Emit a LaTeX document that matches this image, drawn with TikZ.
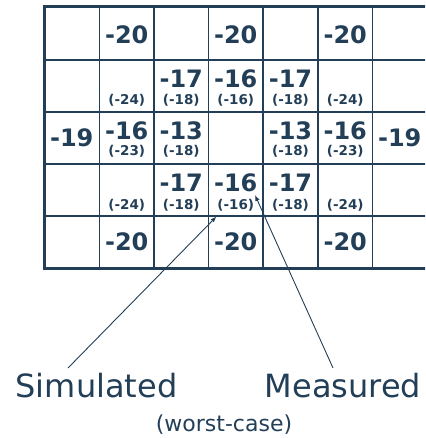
\documentclass[tikz,border=0pt]{standalone}
\usepackage{fontspec}
\setmainfont{DejaVu Sans}
\usetikzlibrary{arrows.meta}
\definecolor{gridblue}{HTML}{233F58}

\begin{document}
\begin{tikzpicture}[x=1pt,y=-1pt,
  big/.style={text=gridblue,inner sep=0pt,anchor=base,font=\bfseries\fontsize{24}{28}\selectfont},
  small/.style={text=gridblue,inner sep=0pt,anchor=base,font=\bfseries\fontsize{13.5}{16}\selectfont},
  caption/.style={text=gridblue,inner sep=0pt,anchor=base},
  pointer/.style={draw=gridblue,line width=0.9pt,-{Latex[length=6pt,width=4.5pt]}}]
  \useasboundingbox (0,0) rectangle (425,438);
  \clip (0,0) rectangle (425,438);
  % the grid
  \foreach \x in {99.5,154,208.5,263,318,372.5}
    \draw[gridblue,line width=1.4pt] (\x,7) -- (\x,268);
  \foreach \y in {60,112,164,216}
    \draw[gridblue,line width=1.4pt] (44,\y) -- (432,\y);
  \draw[gridblue,line width=3pt] (432,7) -- (44,7) -- (44,268) -- (432,268);
  % row 1
  \foreach \x/\c in {126.75/2,235.75/4,345.25/6}
    \node[big] (r1c\c) at (\x,43.5) {-20};
  % row 2
  \node[big] (r2c3) at (181.25,87.3) {-17};
  \node[big] (r2c4) at (235.75,87.3) {-16};
  \node[big] (r2c5) at (290.5,87.3) {-17};
  \foreach \x/\c/\v in {126.75/2/-24,181.25/3/-18,235.75/4/-16,290.5/5/-18,345.25/6/-24}
    \node[small] (s2c\c) at (\x,104.5) {(\v)};
  % row 3
  \node[big] (r3c1) at (71.75,146.7) {-19};
  \node[big] (r3c2) at (126.75,139.3) {-16};
  \node[big] (r3c3) at (181.25,139.3) {-13};
  \node[big] (r3c5) at (290.5,139.3) {-13};
  \node[big] (r3c6) at (345.25,139.3) {-16};
  \node[big] (r3c7) at (399.75,146.7) {-19};
  \foreach \x/\c/\v in {126.75/2/-23,181.25/3/-18,290.5/5/-18,345.25/6/-23}
    \node[small] (s3c\c) at (\x,155.5) {(\v)};
  % row 4
  \node[big] (r4c3) at (181.25,191.7) {-17};
  \node[big] (r4c4) at (235.75,191.7) {-16};
  \node[big] (r4c5) at (290.5,191.7) {-17};
  \foreach \x/\c/\v in {126.75/2/-24,181.25/3/-18,235.75/4/-16,290.5/5/-18,345.25/6/-24}
    \node[small] (s4c\c) at (\x,209.5) {(\v)};
  % row 5
  \foreach \x/\c in {126.75/2,235.75/4,345.25/6}
    \node[big] (r5c\c) at (\x,250) {-20};
  % captions
  \node[caption,font=\fontsize{32}{38}\selectfont] (sim) at (96.5,397.7) {Simulated};
  \node[caption,font=\fontsize{32}{38}\selectfont] (meas) at (343,397.7) {Measured};
  \node[caption,font=\fontsize{22}{26}\selectfont] (worst) at (224,431.5) {(worst-case)};
  \coordinate (simfoot) at (68,368);
  \coordinate (simtip) at (216.5,216.5);
  \coordinate (measfoot) at (333,368);
  \coordinate (meastip) at (255,195);
  \draw[pointer] (simfoot) -- (simtip);
  \draw[pointer] (measfoot) -- (meastip);
\end{tikzpicture}
\end{document}
